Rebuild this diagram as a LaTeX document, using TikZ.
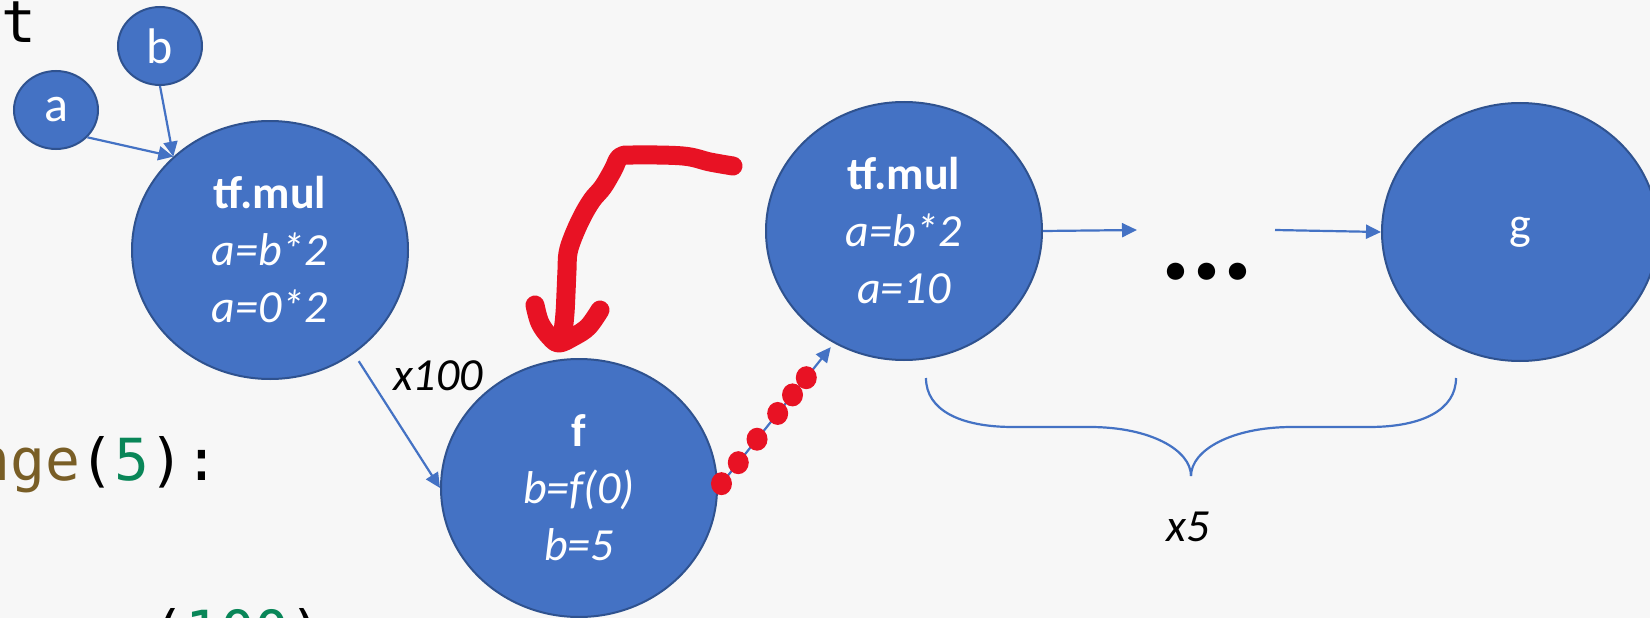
\documentclass[tikz,border=0pt]{standalone}
\usepackage{fontspec}
\setmainfont{Carlito}
\newfontfamily\codefont{DejaVu Sans Mono}
\usetikzlibrary{arrows.meta,shapes.geometric}
\definecolor{bg}{HTML}{F7F7F7}
\definecolor{nodefill}{HTML}{4472C4}
\definecolor{nodeline}{HTML}{2F528F}
\definecolor{inkred}{HTML}{E81224}
\definecolor{codebrown}{HTML}{795E26}
\definecolor{codegreen}{HTML}{098658}
\begin{document}
\begin{tikzpicture}[x=1pt,y=-1pt,
  opnode/.style={ellipse, draw=nodeline, line width=2pt, fill=nodefill,
    text=white, inner sep=0pt, align=center,
    font=\fontsize{46}{57}\selectfont},
  leafsize/.style={minimum width=84pt, minimum height=78pt,
    font=\fontsize{50}{60}\selectfont},
  bigsize/.style={minimum width=276pt, minimum height=258pt},
  link/.style={draw=nodefill, line width=2.2pt,
    -{Triangle[length=15pt,width=14pt]}},
  brace/.style={draw=nodefill, line width=2.2pt},
  ink/.style={draw=inkred, line width=19pt, line cap=round, line join=round},
  tag/.style={inner sep=0pt, font=\fontsize{46}{57}\selectfont\itshape},
  code/.style={anchor=base west, inner sep=0pt,
    font=\codefont\fontsize{58}{58}\selectfont}
]
\useasboundingbox (0,0) rectangle (1650,618);
\fill[bg] (0,0) rectangle (1650,618);
\clip (0,0) rectangle (1650,618);

% code lines in the background
\node[code] (codetop) at (-34,43) {nt};
\node[code] (codemid) at (-25,480)
  {\textcolor{codebrown}{nge}(\textcolor{codegreen}{5}):};
\node[code] (codebot) at (150,652) {(\textcolor{codegreen}{100})};

% graph nodes
\node[opnode, leafsize] (a) at (56,110) {a};
\node[opnode, leafsize] (b) at (160,46) {b};
\node[opnode, bigsize] (m1) at (270,250)
  {\textbf{tf.mul}\\\textit{a=b*2}\\\textit{a=0*2}};
\node[opnode, bigsize] (f) at (579,488)
  {\textbf{f}\\\textit{b=f(0)}\\\textit{b=5}};
\node[opnode, bigsize] (m2) at (904,231)
  {\textbf{tf.mul}\\\textit{a=b*2}\\\textit{a=10}};
\node[opnode, bigsize] (g) at (1520,232) {g};

\node[anchor=base, inner sep=0pt, font=\bfseries\fontsize{116}{116}\selectfont]
  (dots) at (1207,279) {...};
\coordinate (c1) at (1137,230);
\coordinate (c2) at (1275,230);

% connectors
\draw[link] (a.-41) -- (m1.136);
\draw[link] (b.south) -- (m1.136);
\draw[link, shorten <=9pt] (m1.-51) -- (f.west);
\draw[link, shorten >=5pt] (f.east) -- (m2.-122)
  coordinate[pos=0.03]  (r1) coordinate[pos=0.175] (r2)
  coordinate[pos=0.337] (r3) coordinate[pos=0.515] (r4)
  coordinate[pos=0.643] (r5) coordinate[pos=0.762] (r6);
\draw[link] (m2.east) -- (c1);
\draw[link] (c2) -- (g.west);

% labels
\node[tag] (n100) at (438,376) {x100};
\node[tag] (n5) at (1188,527) {x5};

% brace under the repeated part
\draw[brace] (926,378) .. controls (926,410) and (960,427) .. (1013,427)
  -- (1090,427) .. controls (1150,427) and (1191,450) .. (1191,476);
\draw[brace] (1456,378) .. controls (1456,410) and (1422,427) .. (1369,427)
  -- (1292,427) .. controls (1232,427) and (1191,450) .. (1191,476);

% red pen annotations
\foreach \d in {r1,r2,r3,r4,r5,r6}
  \fill[inkred] (\d) ellipse [x radius=10.5pt, y radius=11.5pt];
\draw[ink] plot[smooth, tension=0.6] coordinates {(733,166) (710,162)
  (683,156) (633,155) (620,157) (613,170) (603,187) (592,200) (582,217)
  (573,237) (568,253) (567,270) (566,293) (565,313) (563,330) (559,342)};
\draw[ink] plot[smooth, tension=0.6] coordinates {(535,305) (540,323)
  (550,337) (559,343) (573,337) (588,327) (600,310)};
\end{tikzpicture}
\end{document}
